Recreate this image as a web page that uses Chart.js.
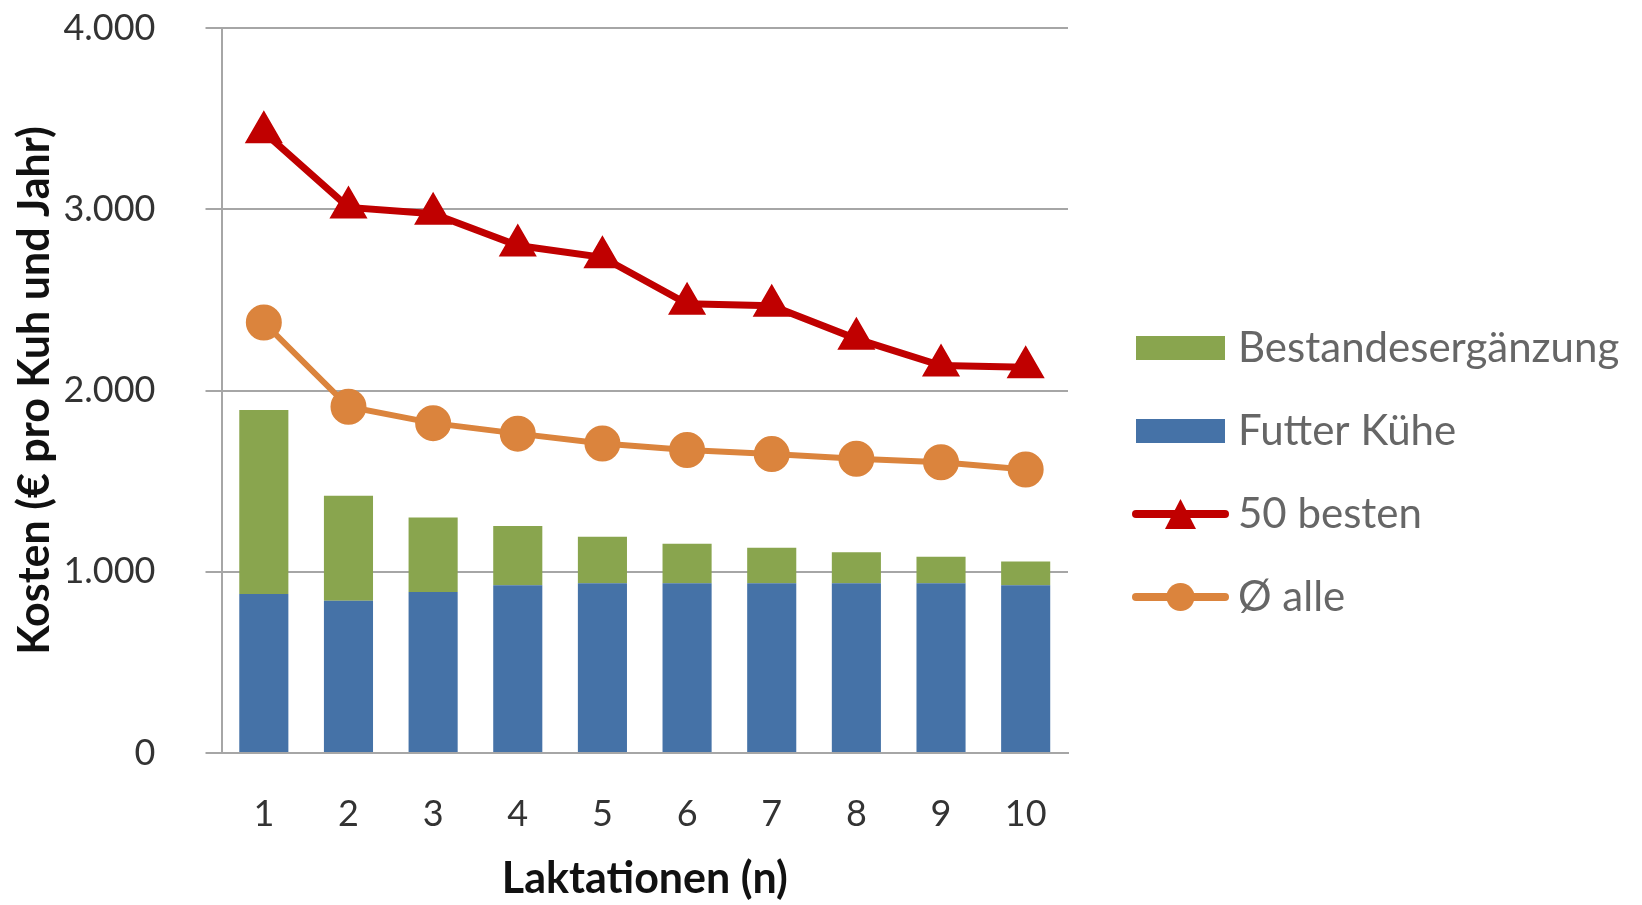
<!DOCTYPE html>
<html>
<head>
<meta charset="utf-8">
<script src="https://cdn.jsdelivr.net/npm/chart.js@4"></script>
<style>
html, body { margin: 0; padding: 0; background: #fff; }
</style>
</head>
<body>
<canvas id="chart" width="1642" height="905"></canvas>
<script>
// Laktationen 1..10
const labels = ['1', '2', '3', '4', '5', '6', '7', '8', '9', '10'];
// Kosten in € pro Kuh und Jahr
const futterKuehe = [877, 840, 888, 925, 936, 936, 936, 936, 936, 925];
const bestandesergaenzung = [1016, 580, 412, 327, 257, 219, 197, 171, 147, 132];
const besten50 = [3425, 3010, 2975, 2800, 2735, 2478, 2468, 2285, 2138, 2128];
const alleMittel = [2375, 1910, 1820, 1762, 1708, 1672, 1649, 1624, 1604, 1564];
const yTicks = [0, 1000, 2000, 3000, 4000];

const blue = '#4572a7';
const green = '#89a54e';
const red = '#c00000';
const orange = '#db843d';
const grey = '#a6a6a6';

Chart.defaults.font.family = 'Lato';

function fmt(v) {
  return String(v).replace(/\B(?=(\d{3})+(?!\d))/g, '.');
}

// legend symbols (box / line with marker)
function legendIcon(kind, color) {
  const c = document.createElement('canvas');
  c.width = 132; c.height = 40;
  const g = c.getContext('2d');
  g.fillStyle = color; g.strokeStyle = color;
  if (kind == 'box') {
    g.fillRect(39, 8, 89, 24);
  } else {
    g.lineWidth = 8; g.lineCap = 'round';
    g.beginPath(); g.moveTo(39, 20); g.lineTo(128, 20); g.stroke();
    g.beginPath();
    if (kind == 'triangle') {
      g.moveTo(83.5, 5); g.lineTo(99, 35); g.lineTo(68, 35); g.closePath();
    } else {
      g.arc(83.5, 20, 14, 0, Math.PI * 2);
    }
    g.fill();
  }
  return c;
}

const legendOrder = [
  { ds: 3, kind: 'box' },
  { ds: 2, kind: 'box' },
  { ds: 0, kind: 'triangle' },
  { ds: 1, kind: 'circle' }
];

// legend geometry: text starts 170px right of the plot, plot ends at x=1068
const legendFont = 42;
const legendPad = 83 - legendFont;
const symbolWidth = 170 - legendPad - legendFont / 2;
const mctx = document.createElement('canvas').getContext('2d');
mctx.font = legendFont + 'px Lato';
const longest = mctx.measureText('Bestandesergänzung').width;
const rightPad = Math.max(0, 1642 - (1238 + longest + 10));

const ctx = document.getElementById('chart');
new Chart(ctx, {
  type: 'bar',
  data: {
    labels: labels,
    datasets: [
      {
        type: 'line', label: '50 besten', data: besten50, stack: 'l1',
        borderColor: red, backgroundColor: red, borderWidth: 7,
        pointStyle: 'triangle', pointRadius: 19, pointBorderWidth: 3,
        pointBackgroundColor: red, pointBorderColor: red, tension: 0
      },
      {
        type: 'line', label: 'Ø alle', data: alleMittel, stack: 'l2',
        borderColor: orange, backgroundColor: orange, borderWidth: 6,
        pointStyle: 'circle', pointRadius: 17, pointBorderWidth: 2,
        pointBackgroundColor: orange, pointBorderColor: orange, tension: 0
      },
      {
        label: 'Futter Kühe', data: futterKuehe, stack: 'kosten',
        backgroundColor: blue, borderWidth: 0,
        barPercentage: 0.58, categoryPercentage: 1.0
      },
      {
        label: 'Bestandesergänzung', data: bestandesergaenzung, stack: 'kosten',
        backgroundColor: green, borderWidth: 0,
        barPercentage: 0.58, categoryPercentage: 1.0
      }
    ]
  },
  options: {
    responsive: false,
    animation: false,
    layout: { padding: { top: 28, right: rightPad, bottom: 0, left: 0 } },
    plugins: {
      tooltip: { enabled: false },
      legend: {
        position: 'right',
        align: 'center',
        maxWidth: 700,
        title: { display: true, text: '', padding: 0, font: { size: 10 } },
        labels: {
          usePointStyle: true,
          pointStyleWidth: symbolWidth,
          padding: legendPad,
          color: '#1a1a1a',
          font: { size: legendFont },
          generateLabels: (chart) => legendOrder.map(o => {
            const d = chart.data.datasets[o.ds];
            const col = d.backgroundColor;
            return {
              text: d.label, fillStyle: col, strokeStyle: col, lineWidth: 0,
              pointStyle: legendIcon(o.kind, col), hidden: false, datasetIndex: o.ds
            };
          })
        }
      }
    },
    scales: {
      x: {
        afterFit: (s) => { s.height = 152; },
        grid: { display: false },
        border: { display: true, color: grey, width: 2 },
        ticks: { padding: 32, color: '#333', font: { size: 36 } },
        title: {
          display: true, text: 'Laktationen (n)', color: '#111',
          font: { size: 43, weight: 'bold' }, padding: { top: 0, bottom: 0 }
        }
      },
      y: {
        stacked: true,
        min: 0, max: 4000,
        afterBuildTicks: (s) => { s.ticks = yTicks.map(v => ({ value: v })); },
        afterFit: (s) => { s.width = 221.5; s.paddingTop = 0; s.paddingBottom = 0; },
        border: { display: true, color: grey, width: 2 },
        grid: { color: grey, lineWidth: 2, tickLength: 16, drawTicks: true },
        ticks: { padding: 50, color: '#333', font: { size: 36 }, callback: (v) => fmt(v) },
        title: {
          display: true, text: 'Kosten (€ pro Kuh und Jahr)', color: '#111',
          font: { size: 43, weight: 'bold' }, padding: { top: 9, bottom: 0 }
        }
      }
    }
  }
});
</script>
</body>
</html>
